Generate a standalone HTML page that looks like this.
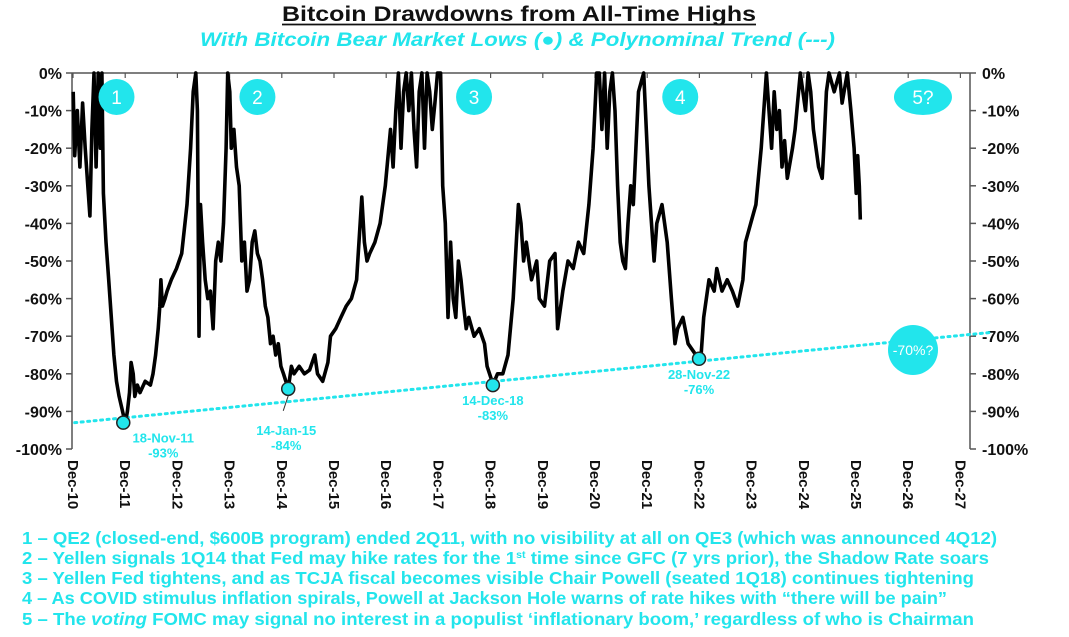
<!DOCTYPE html>
<html><head><meta charset="utf-8"><style>
html,body{margin:0;padding:0;background:#fff;width:1069px;height:637px;overflow:hidden}
svg{display:block;font-family:"Liberation Sans",Arial,sans-serif}
</style></head><body>
<svg id="chart" width="1069" height="637" viewBox="0 0 1069 637" xmlns="http://www.w3.org/2000/svg">
<text x="282" y="21" font-size="21" font-weight="bold" fill="#111" textLength="474" lengthAdjust="spacingAndGlyphs">Bitcoin Drawdowns from All-Time Highs</text>
<line x1="282" y1="24.5" x2="756" y2="24.5" stroke="#111" stroke-width="1.8"/>
<text x="200" y="46" font-size="19" font-weight="bold" font-style="italic" fill="#22e5ec" textLength="635" lengthAdjust="spacingAndGlyphs">With Bitcoin Bear Market Lows (●) &amp; Polynominal Trend (---)</text>
<g id="axes"></g>
<g id="marks"></g>
<g id="notes" fill="#22e5ec" font-weight="bold" font-size="17.5">
<text x="22" y="544" textLength="975" lengthAdjust="spacingAndGlyphs">1 – QE2 (closed-end, $600B program) ended 2Q11, with no visibility at all on QE3 (which was announced 4Q12)</text>
<text x="22" y="564" textLength="967" lengthAdjust="spacingAndGlyphs">2 – Yellen signals 1Q14 that Fed may hike rates for the 1<tspan font-size="10" dy="-6">st</tspan><tspan dy="6"> time since GFC (7 yrs prior), the Shadow Rate soars</tspan></text>
<text x="22" y="584" textLength="952" lengthAdjust="spacingAndGlyphs">3 – Yellen Fed tightens, and as TCJA fiscal becomes visible Chair Powell (seated 1Q18) continues tightening</text>
<text x="22" y="604" textLength="925" lengthAdjust="spacingAndGlyphs">4 – As COVID stimulus inflation spirals, Powell at Jackson Hole warns of rate hikes with “there will be pain”</text>
<text x="22" y="625" textLength="952" lengthAdjust="spacingAndGlyphs">5 – The <tspan font-style="italic">voting</tspan> FOMC may signal no interest in a populist ‘inflationary boom,’ regardless of who is Chairman</text>
</g>
</svg>
<script>
const yTicks=[0,-10,-20,-30,-40,-50,-60,-70,-80,-90,-100];
const xTickLabels=["Dec-10","Dec-11","Dec-12","Dec-13","Dec-14","Dec-15","Dec-16","Dec-17","Dec-18","Dec-19","Dec-20","Dec-21","Dec-22","Dec-23","Dec-24","Dec-25","Dec-26","Dec-27"];
const xTickYears=[2010.917,2011.917,2012.917,2013.917,2014.917,2015.917,2016.917,2017.917,2018.917,2019.917,2020.917,2021.917,2022.917,2023.917,2024.917,2025.917,2026.917,2027.917];
const dates=[2010.92,2010.95,2011.0,2011.05,2011.1,2011.15,2011.2,2011.24,2011.28,2011.32,2011.36,2011.40,2011.44,2011.47,2011.5,2011.55,2011.6,2011.65,2011.7,2011.75,2011.8,2011.85,2011.9,2011.92,2011.96,2012.0,2012.03,2012.07,2012.1,2012.15,2012.2,2012.3,2012.4,2012.45,2012.5,2012.55,2012.58,2012.6,2012.63,2012.68,2012.72,2012.8,2012.9,2013.0,2013.1,2013.17,2013.22,2013.27,2013.3,2013.33,2013.36,2013.4,2013.45,2013.5,2013.55,2013.6,2013.65,2013.7,2013.75,2013.8,2013.85,2013.88,2013.92,2013.95,2014.0,2014.05,2014.1,2014.15,2014.2,2014.25,2014.3,2014.35,2014.4,2014.45,2014.5,2014.55,2014.6,2014.65,2014.7,2014.75,2014.8,2014.85,2014.9,2014.95,2015.04,2015.1,2015.15,2015.25,2015.35,2015.45,2015.55,2015.6,2015.7,2015.8,2015.85,2015.95,2016.05,2016.15,2016.25,2016.35,2016.45,2016.5,2016.55,2016.6,2016.7,2016.8,2016.9,2017.0,2017.05,2017.1,2017.15,2017.2,2017.25,2017.3,2017.35,2017.4,2017.45,2017.5,2017.55,2017.6,2017.65,2017.7,2017.75,2017.8,2017.85,2017.9,2017.96,2018.0,2018.05,2018.1,2018.15,2018.2,2018.25,2018.3,2018.35,2018.4,2018.45,2018.5,2018.6,2018.7,2018.8,2018.85,2018.92,2018.96,2019.05,2019.15,2019.25,2019.35,2019.45,2019.5,2019.55,2019.6,2019.7,2019.8,2019.85,2019.95,2020.05,2020.15,2020.2,2020.3,2020.4,2020.5,2020.6,2020.7,2020.8,2020.88,2020.95,2021.0,2021.05,2021.1,2021.15,2021.2,2021.25,2021.3,2021.35,2021.4,2021.45,2021.5,2021.55,2021.6,2021.65,2021.7,2021.75,2021.85,2021.9,2021.95,2022.0,2022.05,2022.1,2022.2,2022.25,2022.3,2022.38,2022.45,2022.5,2022.6,2022.7,2022.8,2022.9,2022.95,2023.0,2023.1,2023.2,2023.25,2023.35,2023.45,2023.55,2023.65,2023.75,2023.8,2023.9,2024.0,2024.1,2024.2,2024.25,2024.3,2024.35,2024.4,2024.45,2024.5,2024.55,2024.6,2024.7,2024.75,2024.85,2024.9,2024.95,2025.0,2025.05,2025.1,2025.2,2025.27,2025.3,2025.35,2025.4,2025.5,2025.6,2025.65,2025.75,2025.82,2025.88,2025.92,2025.95,2025.98,2026.0];
const drawdowns=[-5,-22,-10,-25,-8,-20,-30,-38,-15,0,-25,0,-20,0,-32,-45,-55,-65,-75,-82,-86,-89,-92,-93,-90,-85,-77,-80,-86,-83,-85,-82,-83,-80,-75,-68,-62,-55,-62,-60,-58,-55,-52,-48,-35,-20,-5,0,-10,-70,-35,-45,-55,-60,-58,-68,-50,-45,-50,-40,-20,0,-5,-20,-15,-25,-30,-50,-45,-58,-55,-45,-42,-48,-50,-55,-62,-65,-72,-70,-75,-72,-78,-80,-84,-78,-80,-78,-80,-79,-75,-80,-82,-77,-70,-68,-65,-62,-60,-55,-33,-45,-50,-48,-45,-40,-30,-15,-25,-10,0,-20,-5,0,-10,0,-15,-25,-5,0,-20,0,-5,-15,-8,0,0,-30,-40,-65,-45,-60,-65,-50,-55,-62,-68,-65,-70,-68,-72,-78,-81,-83,-80,-80,-75,-60,-35,-40,-50,-45,-55,-50,-60,-62,-50,-48,-68,-58,-50,-52,-45,-48,-35,-20,0,0,-15,0,-20,-5,0,-10,-30,-45,-50,-52,-40,-30,-35,-20,-5,0,-15,-30,-40,-50,-40,-35,-40,-45,-60,-72,-68,-65,-72,-74,-76,-75,-65,-55,-58,-52,-58,-55,-58,-62,-55,-45,-40,-35,-20,0,-10,-20,-5,-15,-10,-25,-18,-28,-20,-15,0,-5,-10,0,-5,-15,-25,-28,-20,-5,0,-5,0,-8,0,-10,-20,-32,-22,-30,-39];
const lowDates=[2011.88,2015.04,2018.96,2022.91];
const lowValues=[-93,-84,-83,-76];
const lowLabels=["18-Nov-11","14-Jan-15","14-Dec-18","28-Nov-22"];
const trendDates=[2010.95,2028.5];
const trendValues=[-93,-69];
const eraLabels=["1","2","3","4","5?"];
const eraDates=[2011.75,2014.45,2018.6,2022.55,2027.2];

const NS="http://www.w3.org/2000/svg";
const X0=73,PX=52.2,Y0=73,PY=3.76,LEFT=72,RIGHT=970,TOP=73,BOT=449;
function xs(d){return X0+(d-2010.917)*PX;}
function ys(v){return Y0-v*PY;}
function mk(tag,attrs,parent){const e=document.createElementNS(NS,tag);for(const k in attrs)e.setAttribute(k,attrs[k]);parent.appendChild(e);return e;}
const axes=document.getElementById('axes'),marks=document.getElementById('marks');

let e=mk('line',{x1:LEFT,y1:TOP,x2:RIGHT,y2:TOP,stroke:'#555','stroke-width':1.5},axes);


e=mk('line',{x1:LEFT,y1:TOP,x2:LEFT,y2:BOT,stroke:'#555','stroke-width':1.5},axes);


e=mk('line',{x1:RIGHT,y1:TOP,x2:RIGHT,y2:BOT,stroke:'#555','stroke-width':1.5},axes);



yTicks.forEach(v=>{
  const y=ys(v);
  mk('line',{x1:LEFT-6,y1:y,x2:LEFT,y2:y,stroke:'#555','stroke-width':1.5},axes);
  mk('line',{x1:RIGHT,y1:y,x2:RIGHT+6,y2:y,stroke:'#555','stroke-width':1.5},axes);
  let t=mk('text',{x:LEFT-10,y:y+6,'text-anchor':'end','font-size':16,'font-weight':'bold',fill:'#111'},axes);
  t.textContent=v+'%';
  
  
  t=mk('text',{x:RIGHT+12,y:y+6,'text-anchor':'start','font-size':16,'font-weight':'bold',fill:'#111'},axes);
  t.textContent=v+'%';
  
  
});
xTickLabels.forEach((lab,i)=>{
  const x=xs(xTickYears[i]);
  if(x<RIGHT-5) mk('line',{x1:x,y1:TOP,x2:x,y2:TOP+5,stroke:'#555','stroke-width':1.2},axes);
  const t=mk('text',{x:0,y:0,transform:`translate(${x-5},${BOT+11}) rotate(90)`,'font-size':15,'font-weight':'bold',fill:'#111'},axes);
  t.textContent=lab;
  
  
});

e=mk('line',{x1:xs(trendDates[0]),y1:ys(trendValues[0]),x2:xs(trendDates[1]),y2:ys(trendValues[1]),stroke:'#22e5ec','stroke-width':3,'stroke-dasharray':'2 4.5','stroke-linecap':'round'},marks);



let d='';dates.forEach((t,i)=>{d+=(i?'L':'M')+xs(t).toFixed(1)+' '+ys(drawdowns[i]).toFixed(1);});
e=mk('path',{d:d,fill:'none',stroke:'#000','stroke-width':3.6,'stroke-linejoin':'round'},marks);



eraLabels.forEach((lab,i)=>{
  const x=xs(eraDates[i]),y=97;
  const sh=lab.length>1?mk('ellipse',{cx:x,cy:y,rx:29,ry:18,fill:'#22e5ec'},marks):mk('circle',{cx:x,cy:y,r:18,fill:'#22e5ec'},marks);
  
  
  const t=mk('text',{x:x,y:y+7,'text-anchor':'middle','font-size':19,fill:'#fff'},marks);
  t.textContent=lab;
  
  
});

e=mk('circle',{cx:913,cy:350,r:25,fill:'#22e5ec'},marks);


e=mk('text',{x:913,y:355,'text-anchor':'middle','font-size':14,fill:'#fff'},marks);
e.textContent='-70%?';



const lblOff=[[40,16],[-2,42],[0,16],[0,16]];
lowDates.forEach((t,i)=>{
  const x=xs(t),y=ys(lowValues[i]);
  if(i===1){const l=mk('line',{x1:x,y1:y+7,x2:x-5,y2:y+22,stroke:'#333','stroke-width':1},marks);}
  const c=mk('circle',{cx:x,cy:y,r:6.5,fill:'#22e5ec',stroke:'#222','stroke-width':1.5},marks);
  
  
  const [dx,dy]=lblOff[i];
  const t1=mk('text',{x:x+dx,y:y+dy+4,'text-anchor':'middle','font-size':13,'font-weight':'bold',fill:'#22e5ec'},marks);
  t1.textContent=lowLabels[i];
  
  
  const t2=mk('text',{x:x+dx,y:y+dy+19,'text-anchor':'middle','font-size':13,'font-weight':'bold',fill:'#22e5ec'},marks);
  t2.textContent=lowValues[i]+'%';
  
  
});
</script>
</body></html>
